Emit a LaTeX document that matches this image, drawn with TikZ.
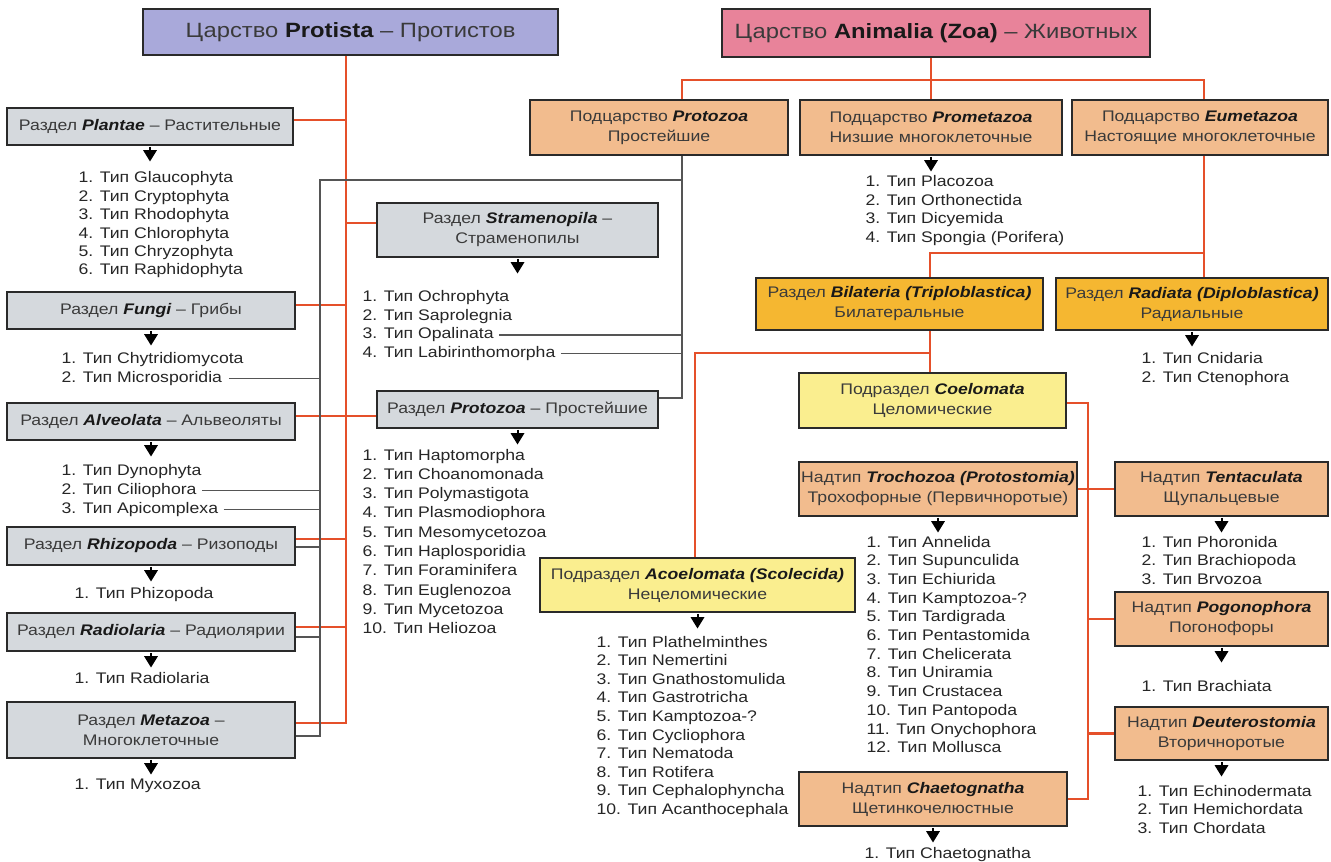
\documentclass[tikz,border=0pt]{standalone}
\usepackage{fontspec}
\setmainfont{Liberation Sans}[FakeStretch=1.15]
\usetikzlibrary{arrows.meta}
\definecolor{lavender}{HTML}{A9A9DA}
\definecolor{pinkf}{HTML}{E8839A}
\definecolor{peach}{HTML}{F2BC8E}
\definecolor{gold}{HTML}{F5B731}
\definecolor{lyellow}{HTML}{FAEE8F}
\definecolor{grayf}{HTML}{D5D9DD}
\definecolor{redl}{HTML}{E5502A}
\definecolor{grayl}{HTML}{555555}
\definecolor{boxline}{HTML}{2A2A2A}
\definecolor{txt}{HTML}{3A3A3A}
\newcommand\bi[1]{\textbf{\textit{\color{black!90}#1}}}
\newcommand\bx[7]{\node[#2, minimum width={(#5-#3)*0.75pt}, minimum height={(#6-#4)*0.75pt}] (#1) at ({(#3+#5)/2},{(#4+#6)/2}) {#7};}
\newcommand\tlist[5]{\foreach \t [count=\i] in {#5} {\node[lst] (#1-\i) at (#2,{#3+5+(\i-1)*#4}) {\t};}}
\newcommand\arr[1]{\draw[tri] ([yshift=-0.5pt]#1.south) -- ([yshift=-11.5pt]#1.south);}
\begin{document}
\begin{tikzpicture}[x=0.75pt,y=-0.75pt,
  box/.style={draw=boxline, line width=1.8pt, inner sep=1pt, align=center, text=txt, font=\fontsize{11.5}{15}\selectfont},
  grayb/.style={box, fill=grayf},
  peachb/.style={box, fill=peach},
  goldb/.style={box, fill=gold},
  yelb/.style={box, fill=lyellow},
  titleb/.style={box, font=\fontsize{15.5}{18}\selectfont},
  lst/.style={anchor=base west, inner sep=1pt, text=black!85, font=\fontsize{11.5}{13.8}\selectfont},
  tri/.style={line width=1.5pt, black, -{Triangle[width=10pt,length=8.5pt]}},
  rline/.style={draw=redl, line width=1.6pt},
  gline/.style={draw=grayl, line width=1.1pt}
]
\fill[white] (0,0) rectangle (1331,862);
\useasboundingbox (0,0) rectangle (1331,862);

% ---------- titles ----------
\bx{protista}{titleb, fill=lavender}{143}{9}{558}{55}{Царство \textbf{\color{black!90}Protista} – Протистов}
\bx{animalia}{titleb, fill=pinkf}{722}{9}{1150}{57}{Царство \textbf{\color{black!90}Animalia (Zoa)} – Животных}

% ---------- left: Protista ----------
\bx{plantae}{grayb}{7}{108}{293}{145}{Раздел \bi{Plantae} – Растительные}
\bx{fungi}{grayb}{7}{292}{295}{329}{Раздел \bi{Fungi} – Грибы}
\bx{alveolata}{grayb}{7}{403}{295}{440}{Раздел \bi{Alveolata} – Альвеоляты}
\bx{rhizopoda}{grayb}{7}{527}{295}{565}{Раздел \bi{Rhizopoda} – Ризоподы}
\bx{radiolaria}{grayb}{7}{613}{295}{651}{Раздел \bi{Radiolaria} – Радиолярии}
\bx{metazoa}{grayb}{7}{702}{295}{758}{Раздел \bi{Metazoa} –\\Многоклеточные}
\bx{stram}{grayb}{377}{203}{658}{257}{Раздел \bi{Stramenopila} –\\Страменопилы}
\bx{protozoaR}{grayb}{377}{391}{658}{428}{Раздел \bi{Protozoa} – Простейшие}

\tlist{lp}{77}{178}{18.4}{1. Тип Glaucophyta, 2. Тип Cryptophyta, 3. Тип Rhodophyta, 4. Тип Chlorophyta, 5. Тип Chryzophyta, 6. Тип Raphidophyta}
\tlist{lf}{60}{359}{18.7}{1. Тип Chytridiomycota, 2. Тип Microsporidia}
\tlist{la}{60}{471}{18.6}{1. Тип Dynophyta, 2. Тип Ciliophora, 3. Тип Apicomplexa}
\tlist{lr}{73}{593}{18.5}{1. Тип Phizopoda}
\tlist{lrd}{73}{678}{18.5}{1. Тип Radiolaria}
\tlist{lm}{73}{784}{18.5}{1. Тип Myxozoa}
\tlist{ls}{361}{297}{18.4}{1. Тип Ochrophyta, 2. Тип Saprolegnia, 3. Тип Opalinata, 4. Тип Labirinthomorpha}
\tlist{lz}{361}{455}{19.3}{1. Тип Haptomorpha, 2. Тип Choanomonada, 3. Тип Polymastigota, 4. Тип Plasmodiophora, 5. Тип Mesomycetozoa, 6. Тип Haplosporidia, 7. Тип Foraminifera, 8. Тип Euglenozoa, 9. Тип Mycetozoa, 10. Тип Heliozoa}

\foreach \b in {plantae,fungi,alveolata,rhizopoda,radiolaria,metazoa,stram,protozoaR} {\arr{\b}}

% red tree (Protista)
\coordinate (rb) at (346,723);
\coordinate (r1) at (346,120);
\coordinate (r2) at (346,223);
\coordinate (r3) at (346,305);
\coordinate (r4) at (346,416);
\coordinate (r5) at (346,539);
\coordinate (r6) at (346,627);
\draw[rline] (rb |- protista.south) -- (rb) -- (rb -| metazoa.east);
\draw[rline] (r1) -- (r1 -| plantae.east);
\draw[rline] (r2) -- (r2 -| stram.west);
\draw[rline] (r3) -- (r3 -| fungi.east);
\draw[rline] (r4 -| alveolata.east) -- (r4 -| protozoaR.west);
\draw[rline] (r5) -- (r5 -| rhizopoda.east);
\draw[rline] (r6) -- (r6 -| radiolaria.east);

% ---------- right: Animalia ----------
\bx{protozoaS}{peachb}{530}{100}{788}{155}{Подцарство \bi{Protozoa}\\Простейшие}
\bx{prometazoa}{peachb}{800}{100}{1062}{155}{Подцарство \bi{Prometazoa}\\Низшие многоклеточные}
\bx{eumetazoa}{peachb}{1072}{100}{1328}{155}{Подцарство \bi{Eumetazoa}\\Настоящие многоклеточные}
\bx{bilateria}{goldb}{756}{278}{1043}{330}{Раздел \bi{Bilateria (Triploblastica)}\\Билатеральные}
\bx{radiata}{goldb}{1056}{278}{1328}{330}{Раздел \bi{Radiata (Diploblastica)}\\Радиальные}
\bx{coelomata}{yelb}{799}{373}{1066}{428}{Подраздел \bi{Coelomata}\\Целомические}
\bx{acoelomata}{yelb}{540}{558}{855}{612}{Подраздел \bi{Acoelomata (Scolecida)}\\Нецеломические}
\bx{trochozoa}{peachb}{799}{462}{1077}{516}{Надтип \bi{Trochozoa (Protostomia)}\\Трохофорные (Первичноротые)}
\bx{tentaculata}{peachb}{1115}{462}{1328}{516}{Надтип \bi{Tentaculata}\\Щупальцевые}
\bx{pogonophora}{peachb}{1115}{592}{1328}{646}{Надтип \bi{Pogonophora}\\Погонофоры}
\bx{deuterostomia}{peachb}{1115}{707}{1328}{760}{Надтип \bi{Deuterostomia}\\Вторичноротые}
\bx{chaetognatha}{peachb}{799}{772}{1067}{826}{Надтип \bi{Chaetognatha}\\Щетинкочелюстные}

\tlist{lpm}{864}{182}{18.5}{1. Тип Placozoa, 2. Тип Orthonectida, 3. Тип Dicyemida, 4. Тип Spongia (Porifera)}
\tlist{lrt}{1140}{359}{18.7}{1. Тип Cnidaria, 2. Тип Ctenophora}
\tlist{ltr}{865}{542}{18.7}{1. Тип Annelida, 2. Тип Supunculida, 3. Тип Echiurida, 4. Тип Kamptozoa-?, 5. Тип Tardigrada, 6. Тип Pentastomida, 7. Тип Chelicerata, 8. Тип Uniramia, 9. Тип Crustacea, 10. Тип Pantopoda, 11. Тип Onychophora, 12. Тип Mollusca}
\tlist{ltn}{1140}{542}{18.7}{1. Тип Phoronida, 2. Тип Brachiopoda, 3. Тип Brvozoa}
\tlist{lpg}{1140}{686}{18.7}{1. Тип Brachiata}
\tlist{ldt}{1136}{791}{18.7}{1. Тип Echinodermata, 2. Тип Hemichordata, 3. Тип Chordata}
\tlist{lch}{863}{853}{18.7}{1. Тип Chaetognatha}
\tlist{lac}{595}{642}{18.6}{1. Тип Plathelminthes, 2. Тип Nemertini, 3. Тип Gnathostomulida, 4. Тип Gastrotricha, 5. Тип Kamptozoa-?, 6. Тип Cycliophora, 7. Тип Nematoda, 8. Тип Rotifera, 9. Тип Cephalophyncha, 10. Тип Acanthocephala}

\foreach \b in {prometazoa,radiata,trochozoa,tentaculata,pogonophora,deuterostomia,chaetognatha,acoelomata} {\arr{\b}}

% red tree (Animalia)
\coordinate (hl) at (682,80);
\coordinate (hr) at (1204,80);
\draw[rline] (prometazoa.north) -- (prometazoa.north |- animalia.south);
\draw[rline] (hl |- protozoaS.north) -- (hl) -- (hr) -- (hr |- eumetazoa.north);
\coordinate (eu) at (1204,253);
\coordinate (bt) at (930,253);
\draw[rline] (eu |- eumetazoa.south) -- (eu |- radiata.north);
\draw[rline] (eu) -- (bt) -- (bt |- bilateria.north);
\coordinate (bm) at (930,353);
\coordinate (am) at (695,353);
\draw[rline] (bm |- bilateria.south) -- (bm |- coelomata.north);
\draw[rline] (bm) -- (am) -- (am |- acoelomata.north);
\coordinate (cv) at (1088,403);
\draw[rline] (cv -| coelomata.east) -- (cv) -- (cv |- chaetognatha.east) -- (chaetognatha.east);
\draw[rline] (trochozoa.east) -- (tentaculata.west);
\draw[rline] (pogonophora.west) -- (pogonophora.west -| cv);
\draw[rline] (deuterostomia.west) -- (deuterostomia.west -| cv);

% ---------- gray cross links ----------
\coordinate (gvt) at (320,180);
\coordinate (gvb) at (320,736);
\coordinate (gp) at (682,180);
\coordinate (gq) at (682,398);
\draw[gline] (gp |- protozoaS.south) -- (gq) -- (gq -| protozoaR.east);
\draw[gline] (gp) -- (gvt) -- (gvb) -- (gvb -| metazoa.east);
\coordinate (g1) at (320,547);
\coordinate (g2) at (320,637);
\draw[gline] (g1) -- (g1 -| rhizopoda.east);
\draw[gline] (g2) -- (g2 -| radiolaria.east);
\draw[gline, shorten <=4pt] (lf-2.east) -- (lf-2.east -| gvt);
\draw[gline, shorten <=3pt] (la-2.east) -- (la-2.east -| gvt);
\draw[gline, shorten <=3pt] (la-3.east) -- (la-3.east -| gvt);
\draw[gline, shorten <=3pt] (ls-3.east) -- (ls-3.east -| gp);
\draw[gline, shorten <=3pt] (ls-4.east) -- (ls-4.east -| gp);
\end{tikzpicture}
\end{document}
